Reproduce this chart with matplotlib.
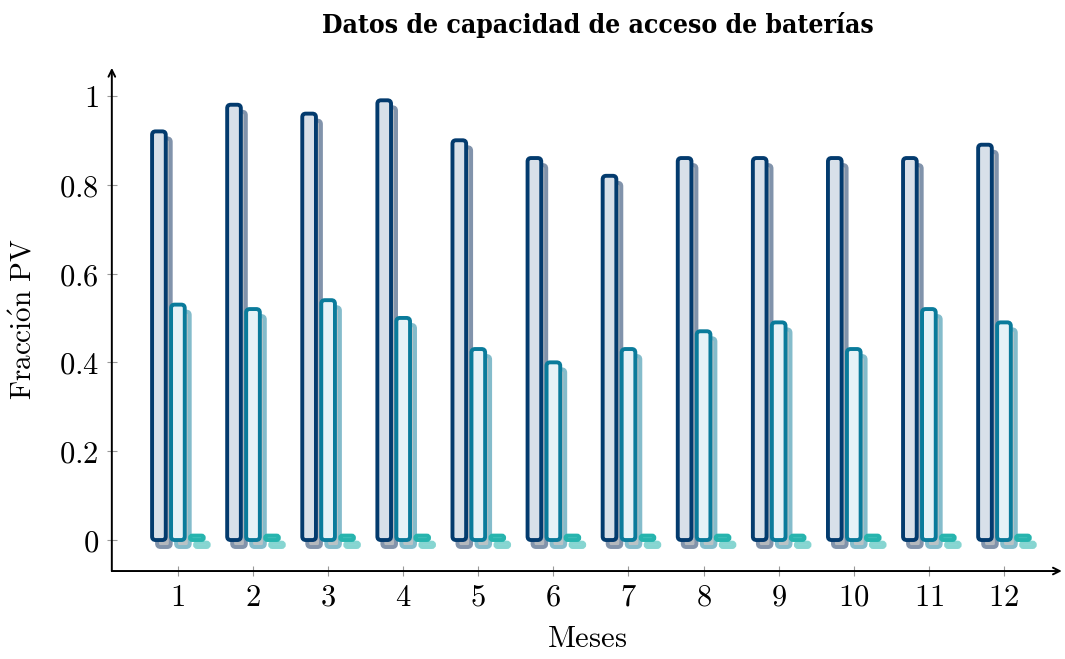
import matplotlib

matplotlib.use("Agg")
import matplotlib.pyplot as plt
from matplotlib.patches import FancyBboxPatch
from matplotlib.transforms import ScaledTranslation
import numpy as np

plt.rcParams["mathtext.fontset"] = "cm"

# values
MONTHS = list(range(1, 13))
SERIE_A = [0.92, 0.98, 0.96, 0.99, 0.90, 0.86, 0.82, 0.86, 0.86, 0.86, 0.86, 0.89]
SERIE_B = [0.53, 0.52, 0.54, 0.50, 0.43, 0.40, 0.43, 0.47, 0.49, 0.43, 0.52, 0.49]
SERIE_C = [0.01, 0.01, 0.01, 0.01, 0.01, 0.01, 0.01, 0.01, 0.01, 0.01, 0.01, 0.01]
Y_TICKS = [0, 0.2, 0.4, 0.6, 0.8, 1]
Y_TICK_LABELS = ["0", "0.2", "0.4", "0.6", "0.8", "1"]

STYLES = [
    # edge, face, shadow edge, shadow face
    ("#033b6e", "#d8e0e9", "#8193ab", "#b4b8bd"),
    ("#0a7b9b", "#e6f2f7", "#84bccb", "#b9c3c6"),
    ("#27b4ae", "#52c7c1", "#86d5d1", "#93d9d5"),
]
OFFSETS = [-0.253, 0.0, 0.253]
WIDTH = 0.182
LW = 2.8
XLIM = (0.12, 12.77)
YLIM = (-0.0698, 1.063)

fig = plt.figure(figsize=(10.65, 6.59), dpi=100)
ax = fig.add_axes([0.105, 0.1335, 0.892, 0.7635])
ax.set_xlim(*XLIM)
ax.set_ylim(*YLIM)
x = np.array(MONTHS, dtype=float)
series = [SERIE_A, SERIE_B, SERIE_C]

# pixels per data unit, to keep the rounded corners circular
bbox = ax.get_position()
px_x = bbox.width * 1065 / (XLIM[1] - XLIM[0])
px_y = bbox.height * 659 / (YLIM[1] - YLIM[0])
aspect = px_x / px_y

shadow_shift = ScaledTranslation(5 / 100, -7 / 100, fig.dpi_scale_trans)


def rounded_bars(vals, off, face, edge, z, shift=None):
    bars = ax.bar(x + off, vals, width=WIDTH)
    for b in bars:
        b.set_visible(False)
        h_px = b.get_height() * px_y
        r_px = min(3.5, h_px / 2)
        patch = FancyBboxPatch(
            (b.get_x(), b.get_y()), b.get_width(), b.get_height(),
            boxstyle=f"round,pad=0,rounding_size={r_px / px_x}",
            mutation_aspect=aspect,
            facecolor=face, edgecolor=edge, linewidth=LW, zorder=z,
        )
        if shift is not None:
            patch.set_transform(ax.transData + shift)
        ax.add_patch(patch)


# shadows first, then the bars on top
for vals, off, (ec, fc, sec, sfc) in zip(series, OFFSETS, STYLES):
    rounded_bars(vals, off, sfc, sec, 2, shadow_shift)
for vals, off, (ec, fc, sec, sfc) in zip(series, OFFSETS, STYLES):
    rounded_bars(vals, off, fc, ec, 3)

ax.set_xlim(*XLIM)
ax.set_ylim(*YLIM)
for s in ax.spines.values():
    s.set_visible(False)

arrow = dict(arrowstyle="->", lw=1.4, color="black", shrinkA=0, shrinkB=0, mutation_scale=12)
ax.annotate("", xy=(1, 0), xytext=(0, 0), xycoords="axes fraction", arrowprops=arrow)
ax.annotate("", xy=(0, 1), xytext=(0, 0), xycoords="axes fraction", arrowprops=arrow)

ax.set_xticks(MONTHS)
ax.set_xticklabels([f"${m}$" for m in MONTHS])
ax.set_yticks(Y_TICKS)
ax.set_yticklabels([f"${t}$" for t in Y_TICK_LABELS])
ax.tick_params(axis="both", direction="inout", length=7, width=0.8, color="#999999", labelsize=22)
ax.tick_params(axis="x", pad=5)
ax.tick_params(axis="y", pad=6)

ax.set_xlabel(r"$\mathrm{Meses}$", fontsize=22, labelpad=9)
ax.set_ylabel(r"$\mathrm{Fracci\acute{o}n\ PV}$", fontsize=21, labelpad=15)

fig.text(0.561, 0.962, "Datos de capacidad de acceso de baterías", ha="center", va="center",
         fontsize=19, fontweight="bold", family="DejaVu Serif", fontstretch="condensed")

fig.savefig("out.png", dpi=100)
